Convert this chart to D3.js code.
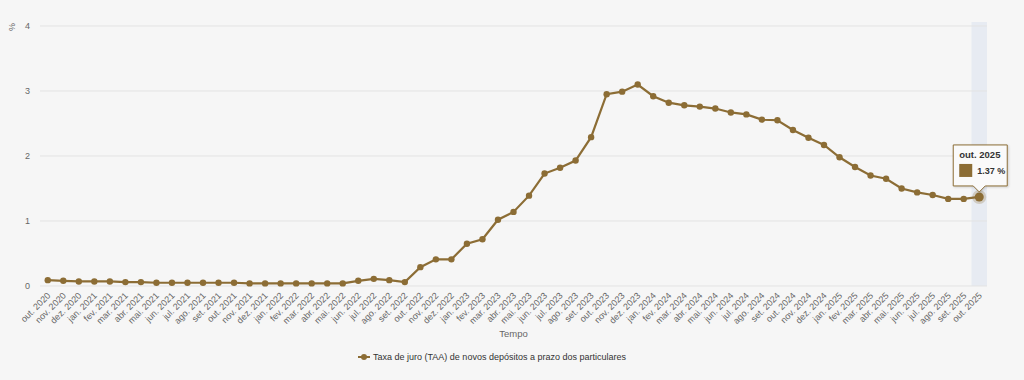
<!DOCTYPE html>
<html>
<head>
<meta charset="utf-8">
<script src="https://cdn.jsdelivr.net/npm/d3@7"></script>
<style>
  html, body { margin:0; padding:0; background:#f6f6f6; }
  svg { display:block; font-family: "Liberation Sans", Arial, sans-serif; }
  .axis text { fill:#666; font-size:9px; }
  .grid line { stroke:#e3e3e3; stroke-width:1; }
</style>
</head>
<body>
<svg id="chart" width="1024" height="380"></svg>
<script>
// months shown on the x axis
const months = [
  "out. 2020","nov. 2020","dez. 2020",
  "jan. 2021","fev. 2021","mar. 2021","abr. 2021","mai. 2021","jun. 2021","jul. 2021","ago. 2021","set. 2021","out. 2021","nov. 2021","dez. 2021",
  "jan. 2022","fev. 2022","mar. 2022","abr. 2022","mai. 2022","jun. 2022","jul. 2022","ago. 2022","set. 2022","out. 2022","nov. 2022","dez. 2022",
  "jan. 2023","fev. 2023","mar. 2023","abr. 2023","mai. 2023","jun. 2023","jul. 2023","ago. 2023","set. 2023","out. 2023","nov. 2023","dez. 2023",
  "jan. 2024","fev. 2024","mar. 2024","abr. 2024","mai. 2024","jun. 2024","jul. 2024","ago. 2024","set. 2024","out. 2024","nov. 2024","dez. 2024",
  "jan. 2025","fev. 2025","mar. 2025","abr. 2025","mai. 2025","jun. 2025","jul. 2025","ago. 2025","set. 2025","out. 2025"
];

// Taxa de juro (TAA) de novos depósitos a prazo dos particulares, %
const rates = [
  0.09, 0.08, 0.07,
  0.07, 0.07, 0.06, 0.06, 0.05, 0.05, 0.05, 0.05, 0.05, 0.05, 0.04, 0.04,
  0.04, 0.04, 0.04, 0.04, 0.04, 0.08, 0.11, 0.09, 0.06, 0.29, 0.41, 0.41,
  0.65, 0.72, 1.02, 1.14, 1.39, 1.73, 1.82, 1.93, 2.29, 2.95, 2.99, 3.10,
  2.92, 2.82, 2.78, 2.76, 2.73, 2.67, 2.64, 2.56, 2.55, 2.40, 2.28, 2.17,
  1.98, 1.83, 1.70, 1.65, 1.50, 1.44, 1.40, 1.34, 1.34, 1.37
];

const yTicks = [0, 1, 2, 3, 4];
const seriesName = "Taxa de juro (TAA) de novos depósitos a prazo dos particulares";
const xTitle = "Tempo";
const yUnit = "%";

const color = "#8c6d35";
const svg = d3.select("#chart");
const m = {top:26, right:37, bottom:94, left:40};
const W = 1024 - m.left - m.right, H = 380 - m.top - m.bottom;

const g = svg.append("g").attr("transform", `translate(${m.left},${m.top})`);

const x = d3.scaleBand().domain(months).range([0, W]).padding(0);
const cx = d => x(d) + x.bandwidth()/2;
const y = d3.scaleLinear().domain([0, 4]).range([H, 0]);

// hovered column highlight
const hoverIdx = months.length - 1;
g.append("rect")
  .attr("x", x(months[hoverIdx])).attr("y", -4)
  .attr("width", x.bandwidth()).attr("height", H + 4)
  .attr("fill", "#e3e8f1").attr("opacity", 0.8);

// grid
g.append("g").attr("class","grid")
  .selectAll("line").data(yTicks).join("line")
  .attr("x1", 0).attr("x2", W)
  .attr("y1", d => y(d)).attr("y2", d => y(d))
  .attr("stroke", d => d === 0 ? "#d8d8d8" : "#e3e3e3");

// y axis labels
const yAxis = g.append("g").attr("class","axis")
  .call(d3.axisLeft(y).tickValues(yTicks).tickFormat(d3.format("d")).tickSize(0).tickPadding(10));
yAxis.select(".domain").remove();
yAxis.selectAll("text").attr("dy", "0.32em");

g.append("text")
  .attr("transform", `translate(${-25},${1}) rotate(-90)`)
  .attr("text-anchor", "middle").attr("fill", "#666").attr("font-size", 9)
  .text(yUnit);

// x axis labels
const xAxis = g.append("g").attr("class","axis")
  .attr("transform", `translate(0,${H})`)
  .call(d3.axisBottom(x).tickSize(0).tickPadding(0));
xAxis.select(".domain").remove();
xAxis.selectAll("text")
  .attr("text-anchor", "end")
  .attr("transform", "translate(1,8) rotate(-45)")
  .attr("dy", "0.35em");

g.append("text")
  .attr("x", W/2).attr("y", H + 51)
  .attr("text-anchor", "middle").attr("fill", "#666").attr("font-size", 9.5)
  .text(xTitle);

// line + markers
const data = months.map((mo, i) => ({ mo, v: rates[i] }));
const line = d3.line().x(d => cx(d.mo)).y(d => y(d.v));
g.append("path").datum(data)
  .attr("fill", "none").attr("stroke", color).attr("stroke-width", 2.2)
  .attr("d", line);

g.append("g").selectAll("circle").data(data).join("circle")
  .attr("cx", d => cx(d.mo)).attr("cy", d => y(d.v))
  .attr("r", 3.2).attr("fill", color);

// hovered point with halo
const hp = data[hoverIdx];
g.append("circle").attr("cx", cx(hp.mo)).attr("cy", y(hp.v))
  .attr("r", 7).attr("fill", color).attr("opacity", 0.25);
g.append("circle").attr("cx", cx(hp.mo)).attr("cy", y(hp.v))
  .attr("r", 4.5).attr("fill", color);

// tooltip
const tx = cx(hp.mo), ty = y(hp.v);
const tw = 54, th = 41, tl = tx - 26, tt = ty - th - 11;
const tip = g.append("g");
tip.append("path")
  .attr("d", `M${tl},${tt} h${tw} v${th} H${tx+6} l-6,6 l-6,-6 H${tl} Z`)
  .attr("fill", "#fafafa").attr("stroke", color).attr("stroke-width", 1)
  .style("filter", "drop-shadow(1px 1px 1px rgba(0,0,0,0.15))");
tip.append("text").attr("x", tl + 6).attr("y", tt + 13)
  .attr("font-size", 9.5).attr("font-weight", "bold").attr("fill", "#333")
  .text(hp.mo);
tip.append("rect").attr("x", tl + 6).attr("y", tt + 19)
  .attr("width", 13).attr("height", 13).attr("fill", color);
tip.append("text").attr("x", tl + 24).attr("y", tt + 29)
  .attr("font-size", 9).attr("font-weight", "bold").attr("fill", "#333")
  .text(d3.format(".2f")(hp.v) + " %");

// legend
const lg = svg.append("g").attr("transform", `translate(358,357)`);
lg.append("line").attr("x1", 0).attr("x2", 12).attr("y1", 0).attr("y2", 0)
  .attr("stroke", color).attr("stroke-width", 2);
lg.append("circle").attr("cx", 6).attr("cy", 0).attr("r", 3).attr("fill", color);
lg.append("text").attr("x", 15).attr("y", 0).attr("dy", "0.35em")
  .attr("font-size", 9).attr("fill", "#333")
  .text(seriesName);
</script>
</body>
</html>
